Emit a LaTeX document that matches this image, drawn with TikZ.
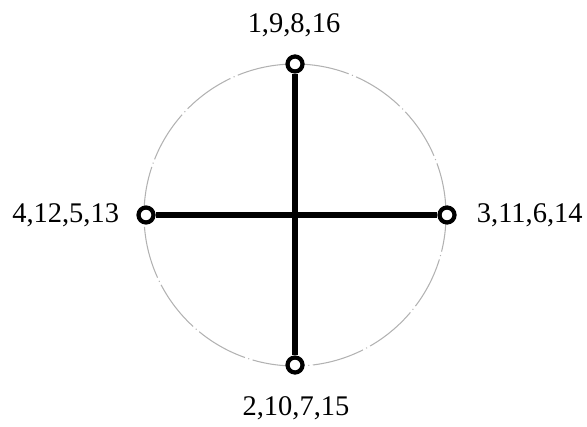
\documentclass[tikz,border=0pt]{standalone}
\usepackage{fontspec}
\setmainfont{Liberation Serif}
\usepackage{tikz}
\usetikzlibrary{positioning}

\begin{document}
\begin{tikzpicture}[
    x=0.02cm, y=0.02cm,
    pole/.style={circle, draw=black, fill=white, line width=2.4pt,
      minimum size=0.3cm, inner sep=0pt},
    polelabel/.style={font=\fontsize{16.2}{19}\selectfont, text=black, inner sep=0pt},
    arm/.style={line width=3.4pt, black},
  ]
  \def\cx{295}
  \def\cy{211}
  \def\r{151}
  \useasboundingbox (0,0) rectangle (587,426);

  % reference circle
  \draw[gray!60, line width=0.6pt,
    dash pattern=on 30pt off 2pt on 0.6pt off 2pt]
    (\cx,\cy) circle (\r);

  % poles
  \node[pole] (top) at (\cx, \cy+\r) {};
  \node[pole] (bottom) at (\cx, \cy-\r+1) {};
  \node[pole] (left) at (\cx-\r+2, \cy) {};
  \node[pole] (right) at (\cx+\r+1, \cy) {};

  % cross
  \draw[arm] (top) -- (bottom);
  \draw[arm] (left) -- (right);

  % labels
  \node[polelabel] (toplabel) at (294, 401) {1,9,8,16};
  \node[polelabel] (bottomlabel) at (296, 18) {2,10,7,15};
  \node[polelabel, left=17 of left] (leftlabel) {4,12,5,13};
  \node[polelabel, right=20 of right] (rightlabel) {3,11,6,14};
\end{tikzpicture}
\end{document}
